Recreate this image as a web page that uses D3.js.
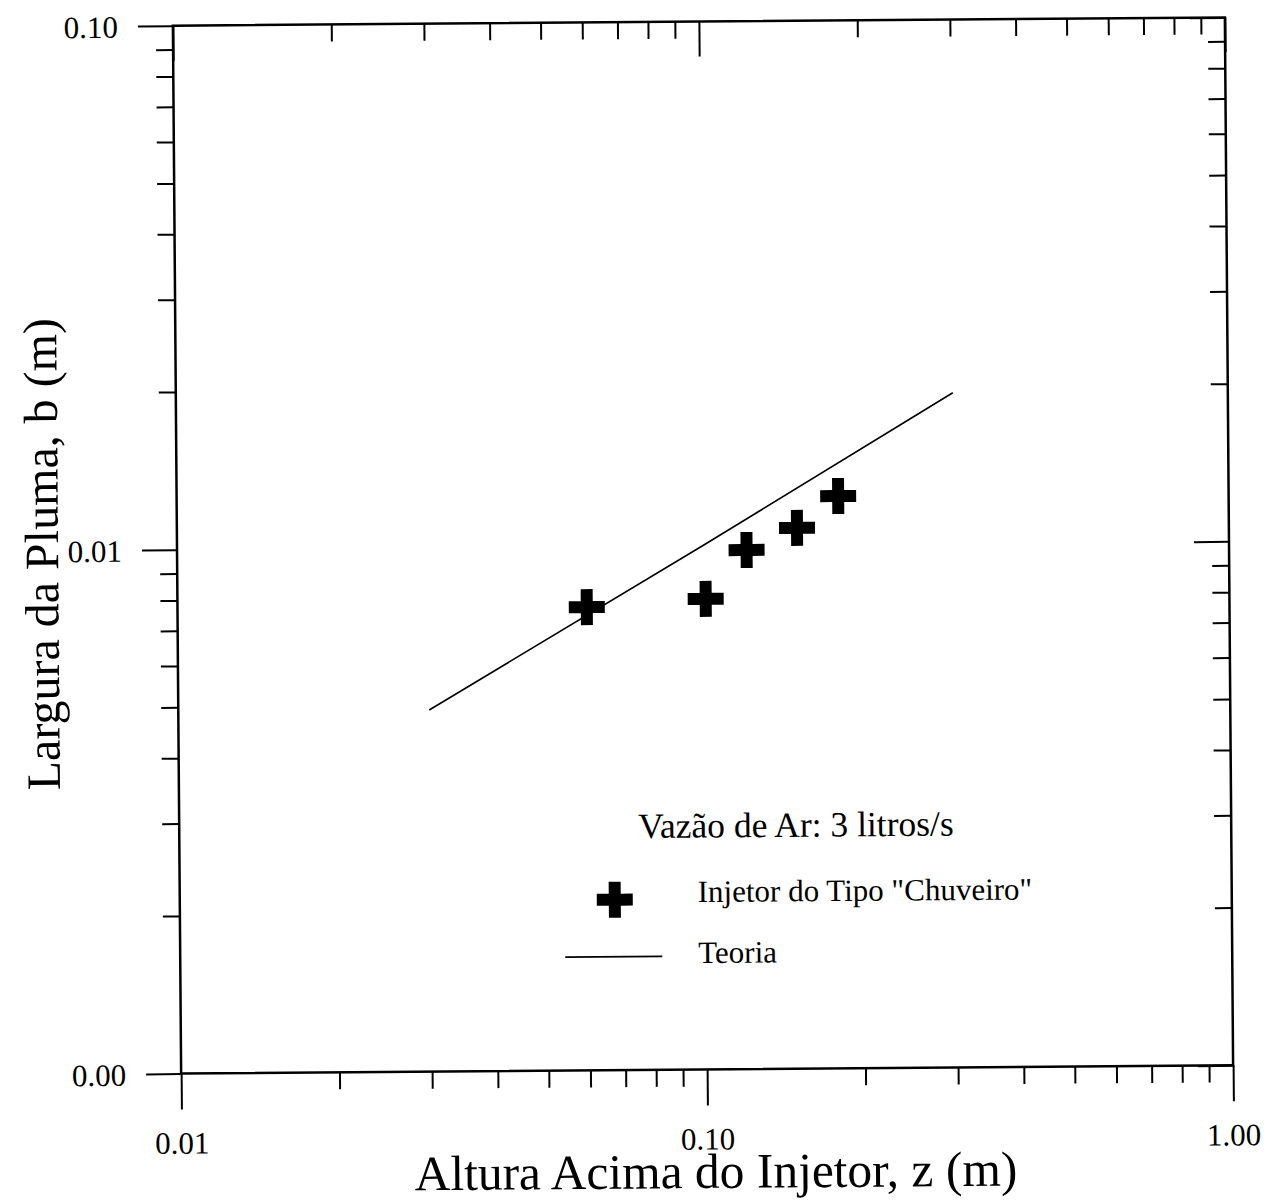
<!DOCTYPE html>
<html>
<head>
<meta charset="utf-8">
<script src="https://cdn.jsdelivr.net/npm/d3@7"></script>
<style>
  body { margin: 0; background: #fff; }
  svg { display: block; font-family: "Liberation Serif", "Times New Roman", serif; }
  .axis path.domain { display: none; }
  .axis line { stroke: #000; stroke-width: 2; }
  .axis text { fill: #000; font-family: "Liberation Serif", "Times New Roman", serif; font-size: 31px; }
</style>
</head>
<body>
<svg width="1268" height="1202"></svg>
<script>
// measured values (log-log)
var heightZ = [0.060, 0.101, 0.121, 0.151, 0.181];      // z (m), "Chuveiro" injector
var widthB = [0.00766, 0.00791, 0.00979, 0.01077, 0.01237]; // b (m)
var theoryZ = [0.030, 0.100, 0.300];
var theoryB = [0.0049, 0.0100, 0.0194];

var xMajor = [0.01, 0.1, 1];
var yMajor = [0.001, 0.01, 0.1];
var multipliers = [2, 3, 4, 5, 6, 7, 8, 9];

var xTitle = "Altura Acima do Injetor, z (m)";
var yTitle = "Largura da Pluma, b (m)";
var legendTitle = "Vazão de Ar: 3 litros/s";
var legendLabels = ["Injetor do Tipo \"Chuveiro\"", "Teoria"];

var svg = d3.select("svg");
svg.append("rect").attr("width", 1268).attr("height", 1202).attr("fill", "#fff");

var plotLeft = 177, plotRight = 1229, plotTop = 21.5, plotBottom = 1069.5;

// the original scan is tilted a little
var g = svg.append("g").attr("transform", "rotate(-0.45, 703, 545.5)");

var x = d3.scaleLog().domain([0.01, 1]).range([plotLeft, plotRight]);
var y = d3.scaleLog().domain([0.001, 0.1]).range([plotBottom, plotTop]);

function minors(majors) {
  var out = [];
  majors.slice(0, -1).forEach(function (m) {
    multipliers.forEach(function (k) { out.push(m * k); });
  });
  return out;
}

var fmt = d3.format(".2f");

// bottom axis: ticks hang outward
g.append("g").attr("class", "axis").attr("transform", "translate(0," + plotBottom + ")")
  .call(d3.axisBottom(x).tickValues(minors(xMajor)).tickSize(17).tickSizeOuter(0).tickFormat(""));
var xb = g.append("g").attr("class", "axis").attr("transform", "translate(0," + plotBottom + ")")
  .call(d3.axisBottom(x).tickValues(xMajor).tickSize(36).tickSizeOuter(0).tickFormat(fmt));
xb.selectAll("text").attr("y", 58);

// top axis: ticks point down into the plot
g.append("g").attr("class", "axis").attr("transform", "translate(0," + plotTop + ")")
  .call(d3.axisTop(x).tickValues(minors(xMajor)).tickSize(-17).tickSizeOuter(0).tickFormat(""));
g.append("g").attr("class", "axis").attr("transform", "translate(0," + plotTop + ")")
  .call(d3.axisTop(x).tickValues(xMajor).tickSize(-35).tickSizeOuter(0).tickFormat(""));

// left axis
g.append("g").attr("class", "axis").attr("transform", "translate(" + plotLeft + ",0)")
  .call(d3.axisLeft(y).tickValues(minors(yMajor)).tickSize(17).tickSizeOuter(0).tickFormat(""));
var yl = g.append("g").attr("class", "axis").attr("transform", "translate(" + plotLeft + ",0)")
  .call(d3.axisLeft(y).tickValues(yMajor).tickSize(35).tickSizeOuter(0).tickFormat(fmt));
yl.selectAll("text").attr("x", -55).attr("dy", "0.36em");

// right axis: ticks point left into the plot
g.append("g").attr("class", "axis").attr("transform", "translate(" + plotRight + ",0)")
  .call(d3.axisRight(y).tickValues(minors(yMajor)).tickSize(-17).tickSizeOuter(0).tickFormat(""));
g.append("g").attr("class", "axis").attr("transform", "translate(" + plotRight + ",0)")
  .call(d3.axisRight(y).tickValues(yMajor).tickSize(-35).tickSizeOuter(0).tickFormat(""));

// frame
g.append("rect")
  .attr("x", plotLeft).attr("y", plotTop)
  .attr("width", plotRight - plotLeft).attr("height", plotBottom - plotTop)
  .attr("fill", "none").attr("stroke", "#000").attr("stroke-width", 2.5);

// theory line
var line = d3.line()
  .x(function (d) { return x(d[0]); })
  .y(function (d) { return y(d[1]); });

g.append("path")
  .datum(d3.zip(theoryZ, theoryB))
  .attr("d", line)
  .attr("fill", "none").attr("stroke", "#000").attr("stroke-width", 1.6);

// measured points
var cross = d3.symbol().type(d3.symbolCross).size(720);

g.selectAll(".pt").data(d3.zip(heightZ, widthB)).enter().append("path")
  .attr("class", "pt")
  .attr("d", cross)
  .attr("transform", function (d) { return "translate(" + x(d[0]) + "," + y(d[1]) + ")"; })
  .attr("fill", "#000");

// axis titles
g.append("text")
  .attr("x", 711).attr("y", 1188)
  .attr("text-anchor", "middle").attr("font-size", 49.5)
  .text(xTitle);

g.append("text")
  .attr("transform", "translate(58,549) rotate(-90)")
  .attr("text-anchor", "middle").attr("font-size", 48)
  .text(yTitle);

// legend
g.append("text")
  .attr("x", 636).attr("y", 837.5).attr("font-size", 35.5)
  .text(legendTitle);

g.append("path")
  .attr("d", cross)
  .attr("transform", "translate(612,899)")
  .attr("fill", "#000");
g.append("text")
  .attr("x", 695).attr("y", 902).attr("font-size", 31)
  .text(legendLabels[0]);

g.append("line")
  .attr("x1", 562).attr("x2", 659).attr("y1", 956).attr("y2", 956)
  .attr("stroke", "#000").attr("stroke-width", 1.6);
g.append("text")
  .attr("x", 695).attr("y", 963).attr("font-size", 31)
  .text(legendLabels[1]);
</script>
</body>
</html>
